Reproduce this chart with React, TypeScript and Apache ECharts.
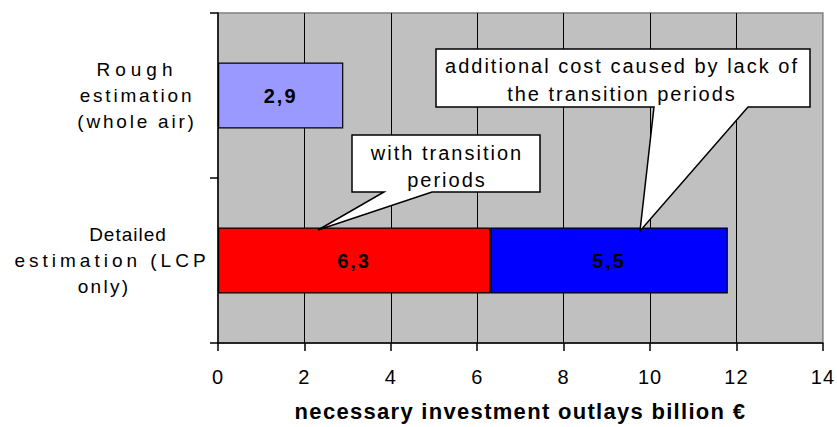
import { useEffect, useRef } from 'react';
import * as echarts from 'echarts';

const categoryLines: string[][] = [
  ['Rough', 'estimation', '(whole air)'],
  ['Detailed', 'estimation (LCP', 'only)'],
];
const categories = categoryLines.map((l) => l.join(' '));
const baseValues = [2.9, 6.3];
const baseColors = ['#9999FF', '#FF0000'];
const extraValues: (number | string)[] = ['-', 5.5];
const extraColor = '#0000FF';
const xMin = 0;
const xMax = 14;
const xInterval = 2;
const xAxisTitle = 'necessary investment outlays billion €';
const calloutTransition = ['with transition', 'periods'];
const calloutAdditional = ['additional cost caused by lack of', 'the transition periods'];

const FONT = '"Liberation Sans", Arial, Helvetica, sans-serif';

// per-line horizontal padding [left, right] used to reproduce the label line offsets
const linePads: number[][][] = [
  [[32, 0], [32, 0], [32, 0]],
  [[14, 0], [0, 18], [0, 34]],
];

// letter spacing (px) per rendered text line, to mimic the reference's wide type
const lineSpacing: Record<string, number> = {
  Rough: 5,
  estimation: 2.8,
  '(whole air)': 2.8,
  Detailed: 1,
  'estimation (LCP': 4,
  'only)': 2.3,
  [xAxisTitle]: 1.3,
};
const DEFAULT_SPACING = 2;
const TICK_SPACING = 1;

export default function App() {
  const ref = useRef<HTMLDivElement>(null);

  useEffect(() => {
    if (!ref.current) return;
    const chart = echarts.init(ref.current, undefined, { renderer: 'svg' });

    const rich: Record<string, any> = {};
    linePads.forEach((lines, i) =>
      lines.forEach((p, j) => {
        rich[`c${i}${j}`] = {
          fontSize: 19,
          lineHeight: 26,
          color: '#000',
          fontFamily: FONT,
          align: 'center',
          padding: [0, p[1], 0, p[0]],
        };
      })
    );

    const valueLabel = {
      show: true,
      position: 'inside',
      fontSize: 20,
      fontWeight: 'bold',
      color: '#000',
      fontFamily: FONT,
      formatter: (p: any) => String(p.value).replace('.', ','),
    };

    chart.setOption({
      animation: false,
      grid: {
        left: 218,
        right: 14,
        top: 13,
        bottom: 80,
        show: true,
        backgroundColor: '#C0C0C0',
        borderColor: '#808080',
        borderWidth: 1.5,
      },
      xAxis: {
        type: 'value',
        min: xMin,
        max: xMax,
        interval: xInterval,
        axisLine: { show: true, lineStyle: { color: '#000', width: 1.5 } },
        axisTick: { show: true, length: 8, lineStyle: { color: '#000', width: 1.5 } },
        axisLabel: { margin: 24, fontSize: 20, color: '#000', fontFamily: FONT },
        splitLine: { show: true, showMaxLine: false, showMinLine: false, lineStyle: { color: '#000', width: 1 } },
        name: xAxisTitle,
        nameLocation: 'middle',
        nameGap: 57,
        nameTextStyle: { fontSize: 22, fontWeight: 'bold', color: '#000', fontFamily: FONT },
      },
      yAxis: {
        type: 'category',
        inverse: true,
        data: categories,
        axisLine: { show: true, lineStyle: { color: '#000', width: 1.5 } },
        axisTick: { show: true, length: 8, lineStyle: { color: '#000', width: 1.5 } },
        axisLabel: {
          interval: 0,
          margin: 97,
          align: 'center',
          fontSize: 19,
          color: '#000',
          fontFamily: FONT,
          formatter: (_v: string, idx: number) =>
            categoryLines[idx].map((t, j) => `{c${idx}${j}|${t}}`).join('\n'),
          rich,
        },
        splitLine: { show: false },
      },
      series: [
        {
          type: 'bar',
          stack: 'total',
          barWidth: 66,
          data: baseValues.map((v, i) => ({ value: v, itemStyle: { color: baseColors[i] } })),
          itemStyle: { borderColor: '#000', borderWidth: 1.2 },
          label: valueLabel,
        },
        {
          type: 'bar',
          stack: 'total',
          barWidth: 66,
          data: extraValues,
          itemStyle: { color: extraColor, borderColor: '#000', borderWidth: 1.2 },
          label: valueLabel,
        },
      ],
      graphic: [
        {
          type: 'polygon',
          z: 100,
          shape: {
            points: [[352, 135], [540, 135], [540, 192], [432, 192], [318, 230], [384, 192], [352, 192]],
          },
          style: { fill: '#fff', stroke: '#000', lineWidth: 1.5 },
        },
        {
          type: 'text',
          z: 101,
          x: 447,
          y: 166,
          style: {
            text: calloutTransition.join('\n'),
            fontSize: 20,
            lineHeight: 27,
            fontFamily: FONT,
            fill: '#000',
            align: 'center',
            verticalAlign: 'middle',
          },
        },
        {
          type: 'polygon',
          z: 100,
          shape: {
            points: [[436, 49], [810, 49], [810, 107], [748, 107], [640, 231], [654, 107], [436, 107]],
          },
          style: { fill: '#fff', stroke: '#000', lineWidth: 1.5 },
        },
        {
          type: 'text',
          z: 101,
          x: 622,
          y: 80,
          style: {
            text: calloutAdditional.join('\n'),
            fontSize: 20,
            lineHeight: 28,
            fontFamily: FONT,
            fill: '#000',
            align: 'center',
            verticalAlign: 'middle',
          },
        },
      ],
    });

    const applySpacing = () => {
      const els = ref.current?.querySelectorAll('text');
      els?.forEach((t) => {
        const txt = (t.textContent || '').trim();
        let s = DEFAULT_SPACING;
        if (txt in lineSpacing) s = lineSpacing[txt];
        else if (/^\d+$/.test(txt)) s = TICK_SPACING;
        (t as SVGTextElement).style.letterSpacing = `${s}px`;
      });
    };
    applySpacing();
    chart.on('finished', applySpacing);
    const raf = requestAnimationFrame(applySpacing);
    const to = setTimeout(applySpacing, 60);

    return () => {
      cancelAnimationFrame(raf);
      clearTimeout(to);
      chart.dispose();
    };
  }, []);

  return (
    <div
      ref={ref}
      style={{
        position: 'fixed',
        left: 0,
        top: 0,
        width: 837,
        height: 427,
        background: '#fff',
      }}
    />
  );
}
